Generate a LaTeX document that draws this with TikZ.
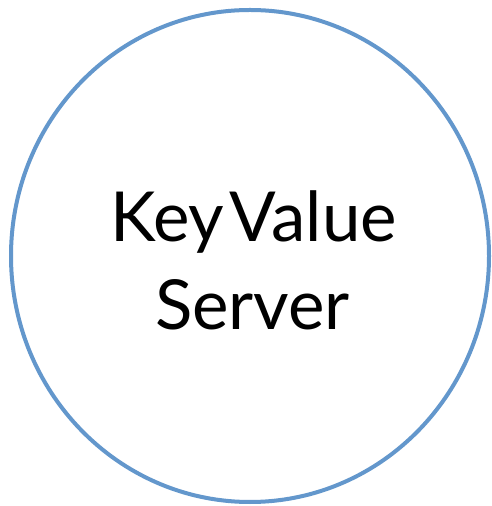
\documentclass[tikz,border=0pt]{standalone}
\usepackage{fontspec}
\setmainfont[WordSpace=0.3]{Lato}
\definecolor{ringblue}{RGB}{99,151,204}
\begin{document}
\begin{tikzpicture}[x=1pt,y=1pt,
  ring/.style={draw=ringblue,line width=4pt,fill=white},
  label/.style={font=\fontsize{69}{88}\selectfont,align=center,inner sep=0pt,anchor=base}]
\useasboundingbox (0,0) rectangle (491,506);
% server circle
\draw[ring] (250,250) ellipse [x radius=239, y radius=246];
% two-line caption, placed by baseline
\node[label] (line1) at (253.5,264) {Key Value};
\node[label] (line2) at (252.5,176) {Server};
\end{tikzpicture}
\end{document}
